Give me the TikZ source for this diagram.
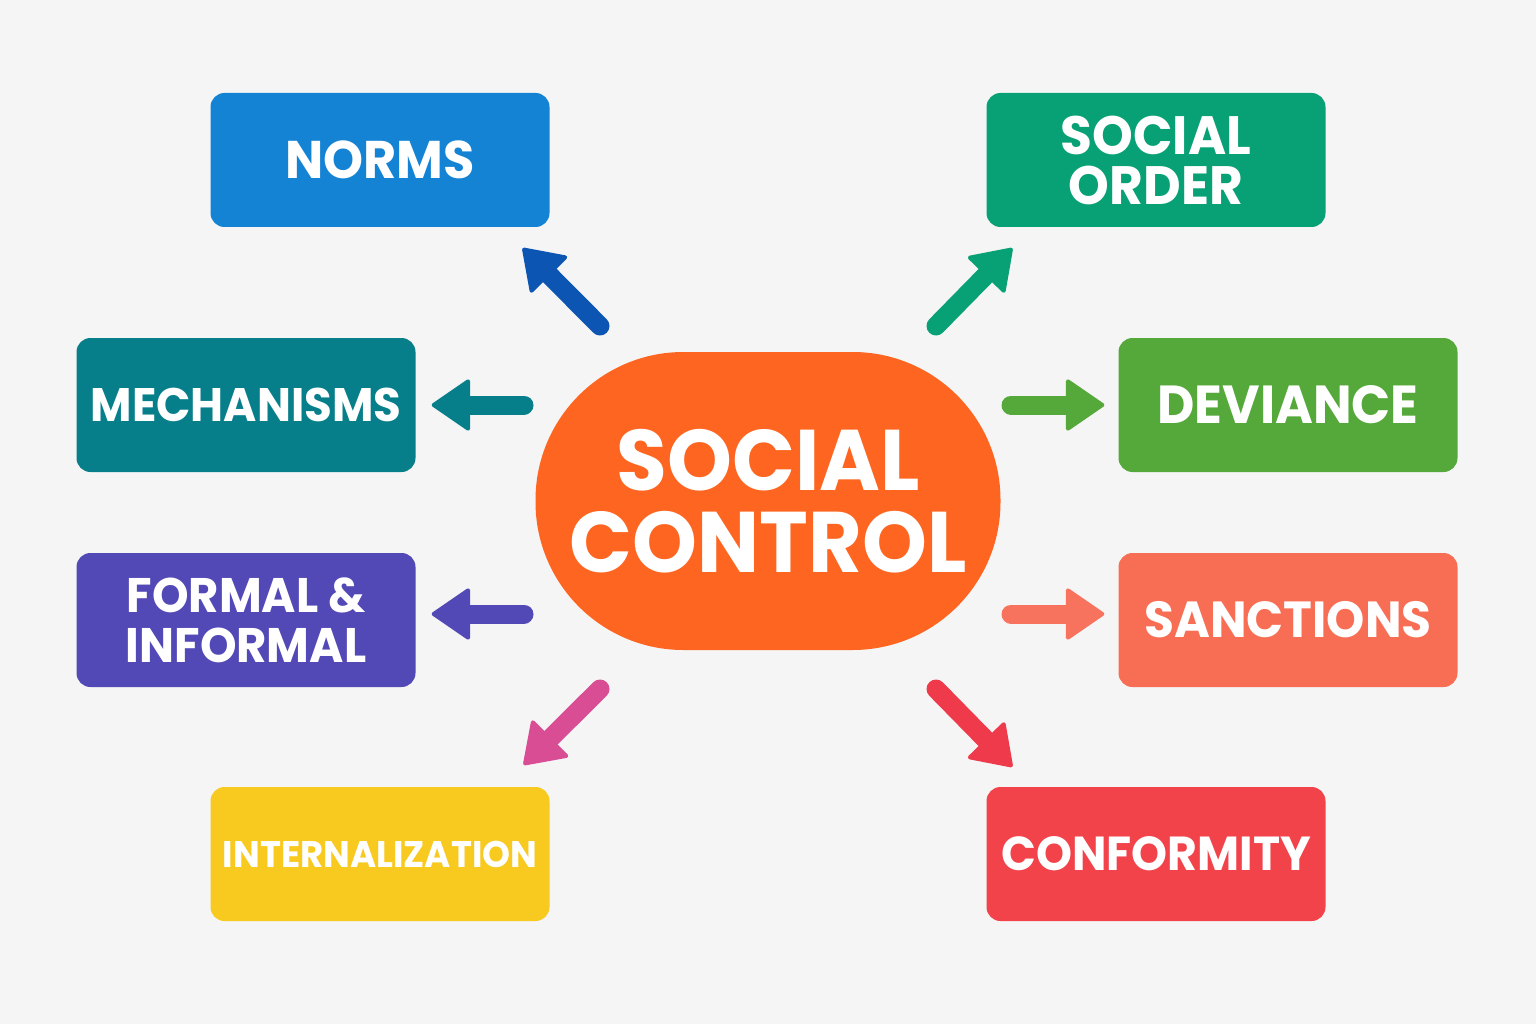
\documentclass[tikz,border=0pt]{standalone}
\usepackage{fontspec}
\setmainfont{Poppins}[FakeStretch=0.96]
\usetikzlibrary{arrows.meta}
\definecolor{bgcol}{HTML}{F5F5F5}
\definecolor{ctrlcol}{HTML}{FD6520}
\definecolor{normscol}{HTML}{1483D4}
\definecolor{normsarr}{HTML}{0D55B2}
\definecolor{ordercol}{HTML}{08A075}
\definecolor{mechcol}{HTML}{077F8B}
\definecolor{devcol}{HTML}{55A83A}
\definecolor{formcol}{HTML}{5249B6}
\definecolor{sanccol}{HTML}{F86E55}
\definecolor{sancarr}{HTML}{F7735D}
\definecolor{interncol}{HTML}{F8C91E}
\definecolor{internarr}{HTML}{D84D94}
\definecolor{confcol}{HTML}{F2424A}
\definecolor{confarr}{HTML}{EE3A4A}
\def\fs#1#2{\bfseries\fontsize{#1pt}{#2pt}\selectfont}
\tikzset{
  box/.style={rectangle, rounded corners=14pt, minimum width=339pt, minimum height=134pt, inner sep=0pt, text=white, align=center},
  arr/.style={line width=19pt, line cap=round, -{Triangle[length=40pt,width=54pt,line width=4pt,round]}},
}

\begin{document}
\begin{tikzpicture}[x=1pt,y=-1pt]
\fill[bgcol] (0,0) rectangle (1536,1024);
\useasboundingbox (0,0) rectangle (1536,1024);

\node[rectangle, rounded corners=148pt, minimum width=465pt, minimum height=298pt, fill=ctrlcol, text=white, align=center, font=\fs{86}{82}] (ctrl) at (768,501) {SOCIAL\\CONTROL};

\node[box, fill=normscol, font=\fs{53}{48}] (norms) at (380,160) {NORMS};
\node[box, fill=ordercol, font=\fs{54}{50}] (order) at (1156,160) {SOCIAL\\ORDER};
\node[box, fill=mechcol, font=\fs{47}{48}] (mech) at (246,405) {MECHANISMS};
\node[box, fill=devcol, font=\fs{53.5}{48}] (dev) at (1288,405) {DEVIANCE};
\node[box, fill=formcol, font=\fs{48.5}{50}] (formal) at (246,620) {FORMAL \&\\INFORMAL};
\node[box, fill=sanccol, font=\fs{50.7}{48}] (sanc) at (1288,620) {SANCTIONS};
\node[box, fill=interncol, font=\fs{37}{48}] (intern) at (380,854) {INTERNALIZATION};
\node[box, fill=confcol, font=\fs{47.7}{48}] (conf) at (1156,854) {CONFORMITY};

\coordinate (c-norms) at ([shift={(-168,-175)}]ctrl.center);
\coordinate (e-norms) at ([shift={(-27,21)}]norms.south east);
\coordinate (c-order) at ([shift={(168,-175)}]ctrl.center);
\coordinate (e-order) at ([shift={(26,21)}]order.south west);
\coordinate (c-mech) at ([shift={(-244,-96)}]ctrl.center);
\coordinate (e-mech) at ([shift={(16,0)}]mech.east);
\coordinate (c-dev) at ([shift={(243,-96)}]ctrl.center);
\coordinate (e-dev) at ([shift={(-14,0)}]dev.west);
\coordinate (c-formal) at ([shift={(-244,113)}]ctrl.center);
\coordinate (e-formal) at ([shift={(16,-6)}]formal.east);
\coordinate (c-sanc) at ([shift={(243,113)}]ctrl.center);
\coordinate (e-sanc) at ([shift={(-14,-6)}]sanc.west);
\coordinate (c-intern) at ([shift={(-168,188)}]ctrl.center);
\coordinate (e-intern) at ([shift={(-26,-22)}]intern.north east);
\coordinate (c-conf) at ([shift={(168,188)}]ctrl.center);
\coordinate (e-conf) at ([shift={(26,-20)}]conf.north west);

\draw[arr, normsarr] (c-norms) -- (e-norms);
\draw[arr, ordercol] (c-order) -- (e-order);
\draw[arr, mechcol] (c-mech) -- (e-mech);
\draw[arr, devcol] (c-dev) -- (e-dev);
\draw[arr, formcol] (c-formal) -- (e-formal);
\draw[arr, sancarr] (c-sanc) -- (e-sanc);
\draw[arr, internarr] (c-intern) -- (e-intern);
\draw[arr, confarr] (c-conf) -- (e-conf);
\end{tikzpicture}
\end{document}
